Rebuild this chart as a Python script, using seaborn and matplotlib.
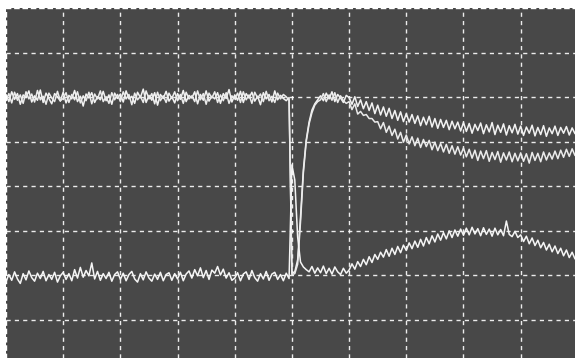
import numpy as np
import pandas as pd
import seaborn as sns
import matplotlib.pyplot as plt

# scope traces, in divisions, one sample every 0.05 div
trace_a = [5.06, 4.90, 5.12, 4.95, 5.08, 4.84, 5.05, 4.99, 5.14, 4.89, 5.03, 4.93, 5.16, 4.88, 5.09, 4.97, 4.85, 5.08, 5.01, 4.91,
           5.11, 4.87, 5.04, 4.96, 5.15, 4.90, 5.02, 4.80, 5.07, 4.98, 5.10, 4.88, 5.01, 4.94, 5.13, 4.92, 5.05, 4.84, 5.09, 4.97,
           5.07, 4.89, 5.14, 4.96, 5.02, 4.86, 5.11, 4.99, 5.18, 4.88, 5.04, 4.93, 5.10, 4.82, 5.06, 4.97, 5.13, 4.91, 5.01, 4.87,
           5.08, 4.95, 5.15, 4.90, 5.04, 4.98, 5.12, 4.85, 5.06, 4.93, 5.14, 4.91, 5.02, 4.96, 5.10, 4.86, 5.08, 4.97, 5.17, 4.89,
           5.05, 4.93, 5.13, 4.88, 5.08, 4.98, 5.11, 4.91, 5.02, 4.83, 5.10, 4.96, 5.06, 4.89, 5.14, 4.94, 5.04, 4.97, 4.92, 4.99,
           1.05, 1.08, 1.35, 2.31, 3.37, 4.04, 4.44, 4.71, 4.85, 4.94, 5.03, 4.92, 5.09, 4.96, 5.12, 4.90, 5.06, 4.98, 4.88, 5.04,
           4.99, 4.84, 5.01, 4.79, 4.94, 4.74, 4.90, 4.70, 4.87, 4.63, 4.82, 4.60, 4.78, 4.57, 4.75, 4.52, 4.70, 4.48, 4.67, 4.45,
           4.63, 4.44, 4.61, 4.41, 4.58, 4.36, 4.55, 4.38, 4.57, 4.33, 4.52, 4.30, 4.50, 4.32, 4.48, 4.27, 4.46, 4.29, 4.44, 4.24,
           4.43, 4.23, 4.41, 4.19, 4.39, 4.25, 4.42, 4.18, 4.38, 4.22, 4.43, 4.16, 4.37, 4.21, 4.40, 4.15, 4.36, 4.20, 4.39, 4.17,
           4.35, 4.14, 4.33, 4.19, 4.37, 4.13, 4.32, 4.16, 4.36, 4.12, 4.31, 4.18, 4.35, 4.14, 4.32, 4.19, 4.34, 4.15, 4.31, 4.18]

trace_b = [4.92, 5.08, 4.87, 5.11, 4.93, 5.05, 4.86, 5.12, 4.96, 5.07, 4.89, 5.15, 4.94, 5.02, 4.84, 5.09, 4.98, 4.90, 5.13, 4.92,
           4.97, 5.10, 4.88, 5.06, 4.94, 5.12, 4.87, 5.03, 4.92, 5.11, 4.85, 5.07, 4.96, 5.14, 4.90, 5.01, 4.86, 5.10, 4.94, 5.06,
           4.90, 5.12, 4.96, 5.06, 4.83, 5.09, 4.94, 5.02, 4.88, 5.14, 4.96, 5.08, 4.85, 5.11, 4.92, 5.03, 4.88, 5.09, 4.97, 5.12,
           4.92, 5.06, 4.86, 5.11, 4.96, 5.03, 4.90, 5.14, 4.94, 5.08, 4.84, 5.09, 4.98, 5.12, 4.88, 5.05, 4.92, 5.10, 4.86, 5.03,
           4.96, 5.09, 4.88, 5.12, 4.94, 5.05, 4.86, 5.11, 4.98, 5.07, 4.90, 5.13, 4.92, 5.02, 4.88, 5.09, 4.96, 5.06, 5.01, 4.93,
           1.02, 1.04, 1.25, 2.20, 3.30, 4.00, 4.40, 4.65, 4.82, 4.90, 4.94, 5.08, 4.90, 5.05, 4.93, 5.10, 4.88, 5.03, 4.92, 4.86,
           4.90, 4.72, 4.85, 4.62, 4.68, 4.59, 4.61, 4.52, 4.52, 4.44, 4.45, 4.29, 4.43, 4.21, 4.35, 4.14, 4.28, 4.06, 4.21, 3.99,
           4.15, 3.95, 4.11, 3.91, 4.08, 3.87, 4.05, 3.89, 4.03, 3.82, 3.99, 3.80, 3.96, 3.77, 3.94, 3.74, 3.91, 3.72, 3.89, 3.70,
           3.86, 3.66, 3.83, 3.63, 3.81, 3.58, 3.79, 3.62, 3.80, 3.56, 3.76, 3.60, 3.78, 3.54, 3.75, 3.59, 3.77, 3.55, 3.74, 3.57,
           3.75, 3.56, 3.73, 3.52, 3.76, 3.58, 3.74, 3.55, 3.77, 3.59, 3.75, 3.61, 3.79, 3.62, 3.81, 3.65, 3.83, 3.67, 3.84, 3.69]

trace_c = [0.86, 1.02, 0.89, 1.08, 0.92, 0.82, 1.04, 0.90, 1.10, 0.95, 0.87, 1.05, 0.93, 1.09, 0.88, 1.02, 0.91, 1.07, 0.85, 0.99,
           1.07, 0.91, 1.04, 0.88, 1.13, 0.94, 1.18, 0.96, 1.11, 0.99, 1.28, 0.92, 1.09, 0.89, 1.04, 0.93, 1.07, 0.87, 1.02, 1.08,
           0.91, 1.05, 0.88, 1.02, 1.09, 0.92, 0.85, 1.04, 0.90, 1.08, 0.94, 0.87, 1.03, 0.91, 1.07, 0.88, 1.02, 1.06, 0.89, 1.04,
           0.92, 1.07, 0.88, 1.03, 1.10, 0.94, 1.13, 0.99, 1.17, 0.95, 1.11, 0.91, 1.12, 1.05, 1.20, 1.01, 1.14, 0.94, 1.06, 0.89,
           0.94, 1.06, 0.88, 1.03, 1.08, 0.91, 1.11, 0.95, 0.87, 1.04, 0.92, 1.09, 0.89, 1.03, 1.07, 0.91, 1.02, 0.88, 1.05, 0.93,
           3.48, 3.14, 1.86, 1.30, 1.19, 1.13, 1.08, 1.20, 1.05, 1.17, 1.06, 1.21, 1.04, 1.16, 1.03, 1.19, 1.08, 1.02, 1.16, 1.05,
           1.12, 1.26, 1.14, 1.31, 1.20, 1.36, 1.24, 1.42, 1.29, 1.47, 1.36, 1.52, 1.41, 1.58, 1.43, 1.61, 1.47, 1.65, 1.51, 1.68,
           1.56, 1.73, 1.60, 1.77, 1.63, 1.81, 1.66, 1.85, 1.71, 1.89, 1.75, 1.93, 1.79, 1.96, 1.82, 2.00, 1.85, 2.02, 1.88, 2.04,
           1.90, 2.06, 1.91, 2.08, 1.93, 2.05, 1.89, 2.07, 1.92, 2.04, 1.88, 2.06, 1.91, 2.03, 1.89, 2.22, 1.92, 1.87, 1.99, 1.85,
           1.91, 1.76, 1.88, 1.71, 1.84, 1.67, 1.79, 1.62, 1.74, 1.57, 1.70, 1.53, 1.66, 1.49, 1.61, 1.44, 1.57, 1.40, 1.52, 1.37]

# time axis (divisions), uniform sampling
t = np.arange(len(trace_a)) * 0.05

df = pd.concat([
    pd.DataFrame({'t': t, 'v': trace_a, 'trace': 'A'}),
    pd.DataFrame({'t': t, 'v': trace_b, 'trace': 'B'}),
    pd.DataFrame({'t': t, 'v': trace_c, 'trace': 'C'}),
])

sns.set_style('dark')
fig = plt.figure(figsize=(5.75, 3.58), dpi=100, facecolor='white')
ax = fig.add_axes([6 / 575, 0, 569 / 575, 350 / 358])
ax.set_facecolor('#484848')

sns.lineplot(data=df, x='t', y='v', hue='trace', units='trace', estimator=None, sort=False,
             palette=['#f2f2f2', '#ebebeb', '#f5f5f5'], linewidth=1.1, legend=False, ax=ax)

ax.set_xlim(0, 9.95)
ax.set_ylim(-0.853, 7.0)
ax.set_xticks(np.arange(1, 10))
ax.set_yticks(np.arange(0, 7))
ax.grid(True, color='white', linestyle=(0, (3, 3)), linewidth=1.0, alpha=0.9)
ax.tick_params(left=False, bottom=False, labelleft=False, labelbottom=False)
ax.set_xlabel('')
ax.set_ylabel('')
for side in ['left', 'top']:
    ax.spines[side].set_visible(True)
    ax.spines[side].set_color('white')
    ax.spines[side].set_linestyle((0, (3, 3)))
    ax.spines[side].set_linewidth(1.0)
for side in ['right', 'bottom']:
    ax.spines[side].set_visible(False)

plt.savefig('out.png', dpi=100)
